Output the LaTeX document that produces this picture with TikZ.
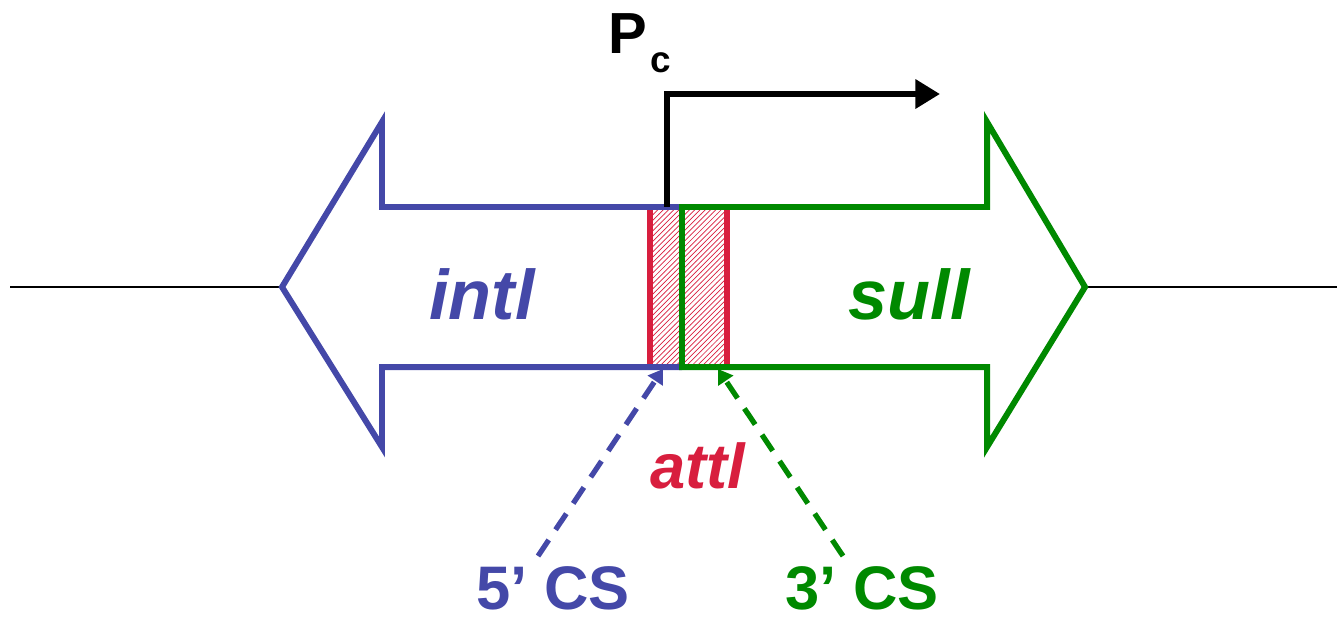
\documentclass[tikz,border=0pt]{standalone}
\usepackage{fontspec}
\setmainfont{Liberation Sans}
\usetikzlibrary{arrows.meta,patterns}
\definecolor{intblue}{RGB}{68,72,168}
\definecolor{sulgreen}{RGB}{0,137,0}
\definecolor{attred}{RGB}{216,30,62}

\begin{document}
\begin{tikzpicture}[x=.02cm,y=-.02cm,font=\bfseries,
    gene/.style={line width=3.4pt,line join=miter},
    cs/.style={line width=3pt,dash pattern=on 11pt off 7pt,-{Triangle[length=8pt,width=10pt]}}]
  \useasboundingbox (0,0) rectangle (1337,620);
  % backbone
  \draw[line width=1.1pt] (10,287) -- (282,287);
  \draw[line width=1.1pt] (1085,287) -- (1337,287);
  % attI core sites
  \fill[pattern=north east lines,pattern color=attred] (648,207) rectangle (728,367);
  \draw[attred,line width=3.2pt] (650,207) -- (650,367);
  \draw[attred,line width=3.2pt] (727,207) -- (727,367);
  % genes
  \draw[gene,intblue] (682,207) -- (382,207) -- (382,122) -- (282,287) -- (382,447) -- (382,367) -- (682,367);
  \draw[gene,sulgreen] (682,207) -- (987,207) -- (987,122) -- (1085,287) -- (987,447) -- (987,367) -- (682,367) -- cycle;
  % promoter
  \draw[line width=3.4pt,-{Triangle[length=14pt,width=16pt]}] (667,207) -- (667,94) -- (940,94);
  \node[anchor=base west,inner sep=0] (pc) at (608,53) {\fontsize{33}{33}\selectfont P\kern2pt\raisebox{-11pt}{\fontsize{21}{21}\selectfont c}};
  % labels
  \node[anchor=base,intblue,inner sep=0] (intl) at (482,319) {\fontsize{40}{40}\selectfont\itshape intl};
  \node[anchor=base,sulgreen,inner sep=0] (sull) at (909,319) {\fontsize{40}{40}\selectfont\itshape sull};
  \node[anchor=base,attred,inner sep=0] (attl) at (698,488) {\fontsize{36}{36}\selectfont\itshape attl};
  \node[anchor=base,intblue,inner sep=0] (cs5) at (553,609) {\fontsize{35}{35}\selectfont 5’ CS};
  \node[anchor=base,sulgreen,inner sep=0] (cs3) at (862,609) {\fontsize{35}{35}\selectfont 3’ CS};
  \coordinate (s5) at (663,369);
  \coordinate (s3) at (718,369);
  \draw[cs,intblue] (538,556) -- (s5);
  \draw[cs,sulgreen] (843,556) -- (s3);
\end{tikzpicture}
\end{document}
